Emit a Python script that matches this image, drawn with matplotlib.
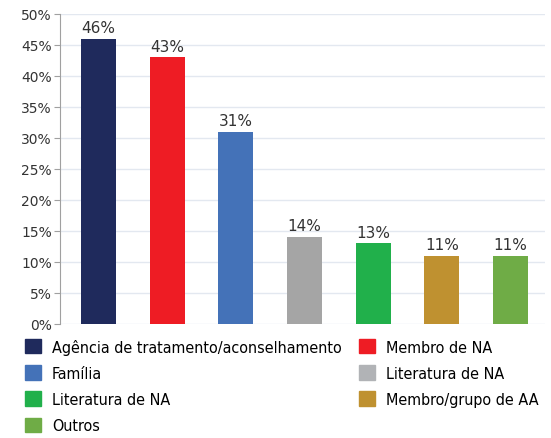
import matplotlib.pyplot as plt
from matplotlib.patches import Patch

# Data
categories = ["Agência de tratamento/aconselhamento", "Membro de NA", "Família",
              "Literatura de NA", "Literatura de NA", "Membro/grupo de AA", "Outros"]
values = [46, 43, 31, 14, 13, 11, 11]
colors = ["#1f2a5c", "#ee1c24", "#4472b8", "#a5a5a5", "#21b04b", "#bf9130", "#6fac46"]
legend_colors = ["#1f2a5c", "#ee1c24", "#4472b8", "#b1b3b6", "#21b04b", "#bf9130", "#6fac46"]
yticks = [0, 5, 10, 15, 20, 25, 30, 35, 40, 45, 50]

fig = plt.figure(figsize=(5.51, 4.39), dpi=100)
ax = fig.add_axes([0.109, 0.26, 0.880, 0.706])

x = list(range(len(values)))
ax.bar(x, values, width=0.51, color=colors, zorder=3)
for xi, v in zip(x, values):
    ax.text(xi, v + 0.6, f"{v}%", ha="center", va="bottom", fontsize=11, color="#333333")

ax.set_xlim(-0.56, 6.5)
ax.set_ylim(0, 50)
ax.set_yticks(yticks)
ax.set_yticklabels([f"{t}%" for t in yticks], fontsize=10, color="#333333")
ax.set_xticks([])
ax.grid(axis="y", color="#e3e8f0", linewidth=1, zorder=0)
for s in ["top", "right", "bottom"]:
    ax.spines[s].set_visible(False)
ax.spines["left"].set_color("#a0a0a0")
ax.tick_params(axis="y", length=4, color="#a0a0a0", pad=2)

# legend in two columns, column-first order
order = [0, 2, 4, 6, 1, 3, 5]
handles = [Patch(color=legend_colors[i], label=categories[i]) for i in order]
fig.legend(handles=handles, ncol=2, loc="upper left", bbox_to_anchor=(0.045, 0.226),
           frameon=False,
           prop={"family": ["DejaVu Sans"], "stretch": "condensed", "size": 11.5},
           handlelength=1.0, handleheight=1.0, handletextpad=0.7, labelspacing=0.66,
           columnspacing=1.1, borderaxespad=0, borderpad=0)

fig.savefig("out.png", dpi=100)
